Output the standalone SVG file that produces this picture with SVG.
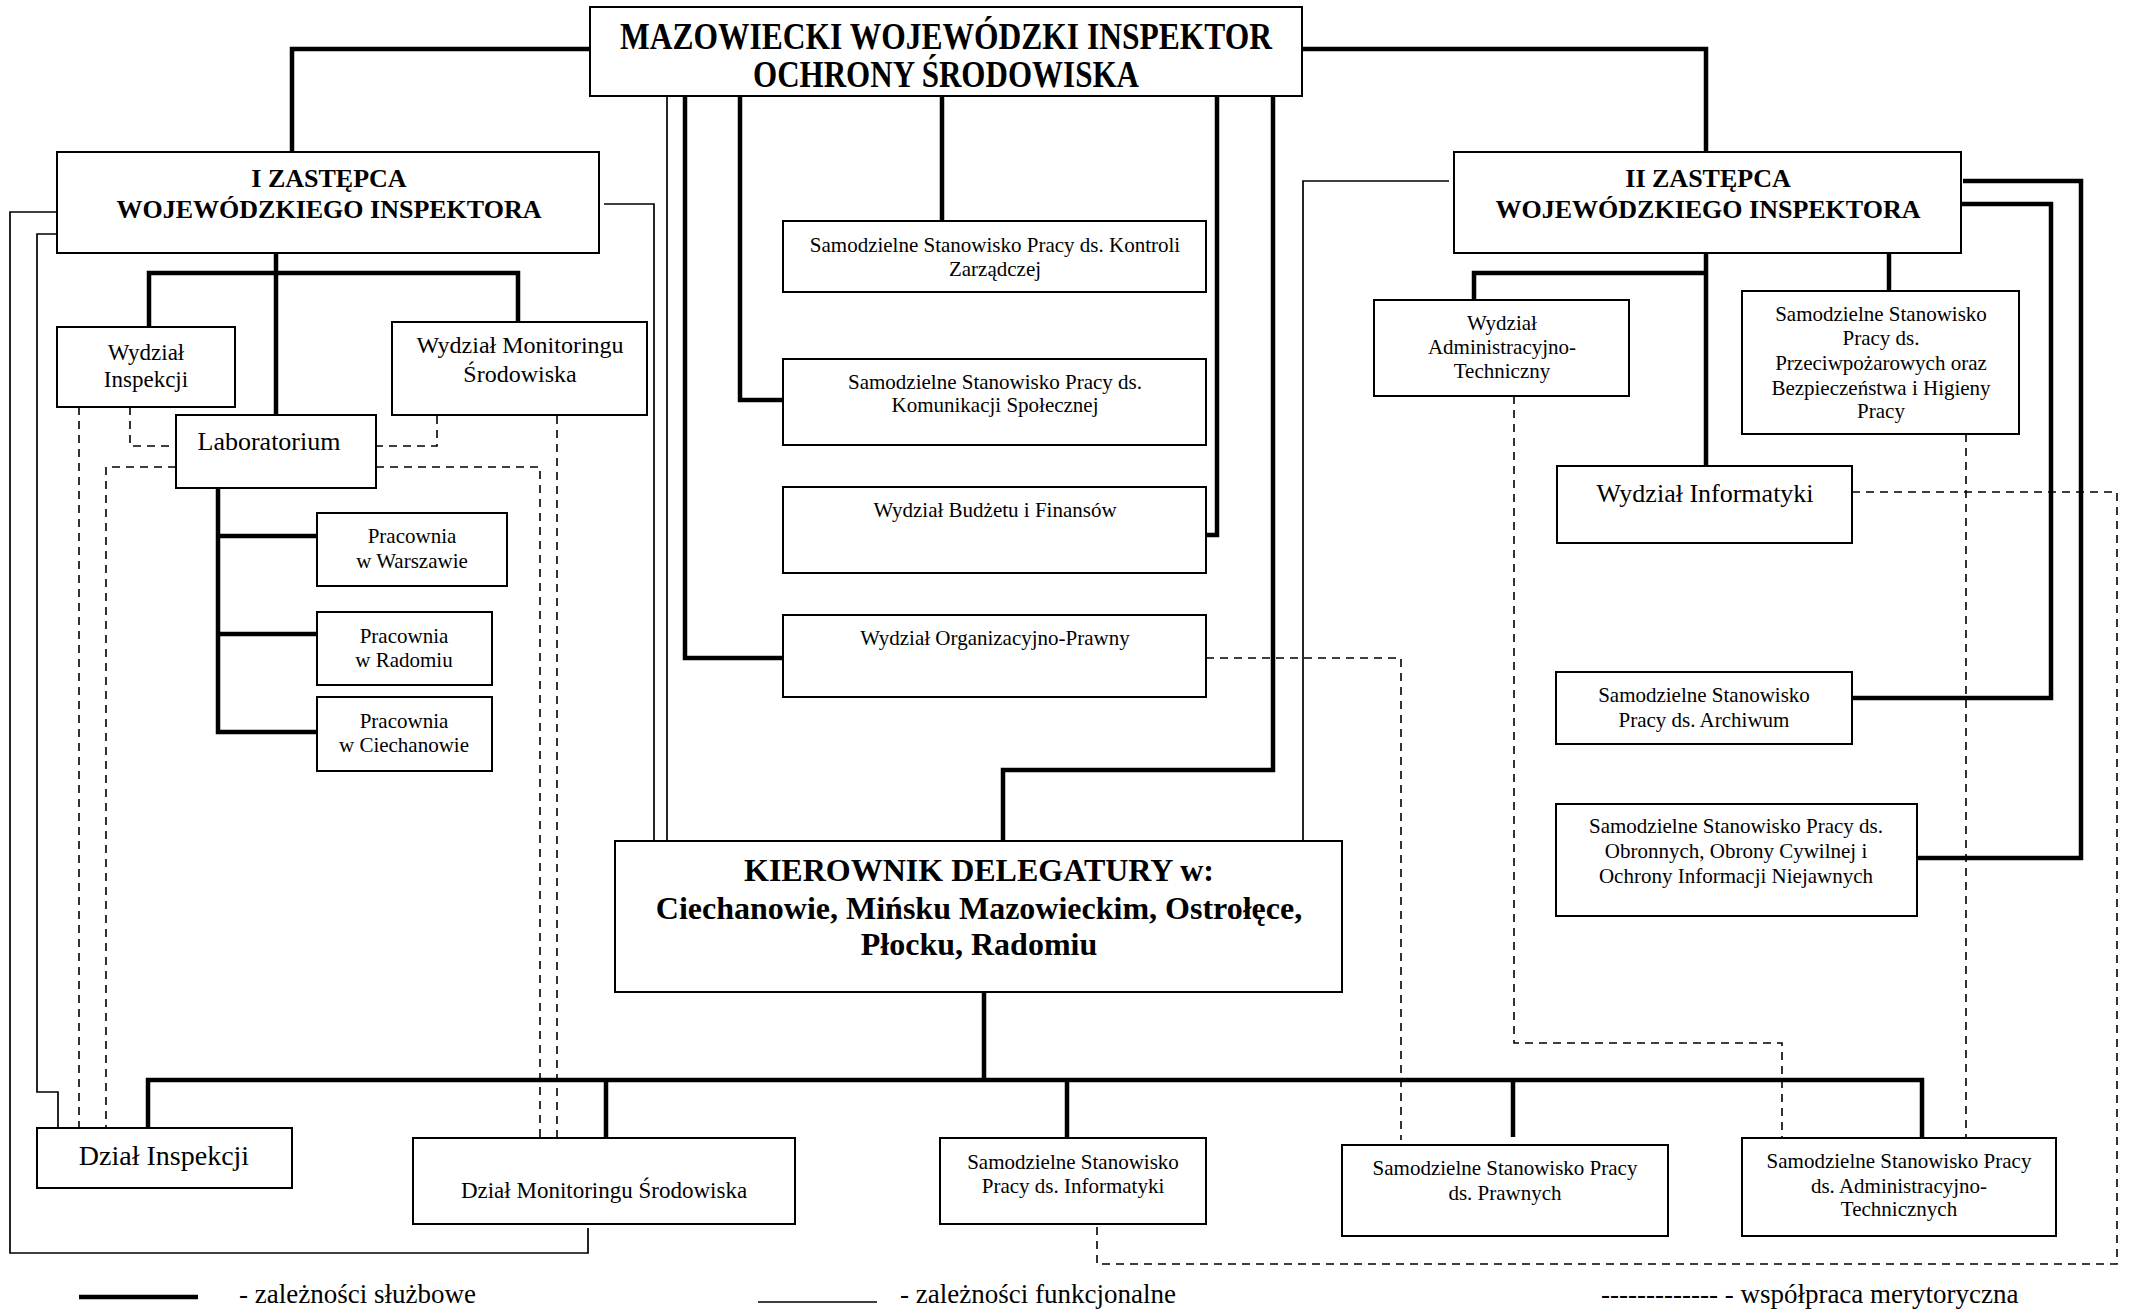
<svg xmlns="http://www.w3.org/2000/svg" width="2132" height="1310" viewBox="0 0 2132 1310">
<style>
rect.b{fill:#fff;stroke:#000;stroke-width:2}
text{font-family:"Liberation Serif","Times New Roman",serif;fill:#000;text-anchor:middle}
.t21{font-size:21px}
.t23{font-size:23px}
.t24{font-size:24px}
.t26{font-size:26px}
.t28{font-size:28px}
.bz{font-size:26px;font-weight:bold}
.bk{font-size:32px;font-weight:bold}
.bt{font-size:37px;font-weight:bold}
.lg{font-size:27px;text-anchor:start}
path{fill:none;stroke:#000}
.s path,path.s{stroke-width:4.5}
.f path,path.f{stroke-width:1.7}
.d path{stroke-width:1.6;stroke-dasharray:8 6}
</style>
<rect width="2132" height="1310" fill="#fff"/>
<g id="connectors">
<g class="s">
<path d="M590,49 H292 V152"/>
<path d="M1302,49 H1706 V152"/>
<path d="M685,96 V658 H783"/>
<path d="M740,96 V400 H783"/>
<path d="M942,96 V221"/>
<path d="M1217,96 V535 H1206"/>
<path d="M1273,96 V770 H1003 V841"/>
<path d="M276,253 V415"/>
<path d="M149,330 V273 H518 V321"/>
<path d="M218,488 V732 H317 M218,536 H317 M218,634 H317"/>
<path d="M1706,253 V466"/>
<path d="M1706,273 H1474 V300"/>
<path d="M1889,253 V291"/>
<path d="M1963,181 H2081 V858 H1917"/>
<path d="M1961,204 H2051 V698 H1852"/>
<path d="M984,992 V1080"/>
<path d="M148,1128 V1080 H1922 V1138"/>
<path d="M606,1080 V1138 M1067,1080 V1138 M1513,1080 V1137"/>
</g>
<g class="f">
<path d="M57,212 H10 V1253 H588 V1228"/>
<path d="M57,234 H37 V1092 H58 V1128"/>
<path d="M604,204 H654 V841"/>
<path d="M667,96 V841"/>
<path d="M1449,181 H1303 V841"/>
</g>
<g class="d">
<path d="M79,407 V1128"/>
<path d="M130,407 V446 H176"/>
<path d="M437,416 V446 H376"/>
<path d="M557,416 V1138"/>
<path d="M176,467 H106 V1128"/>
<path d="M376,467 H540 V1138"/>
<path d="M1206,658 H1401 V1140"/>
<path d="M1514,396 V1043 H1782 V1138"/>
<path d="M1966,434 V1140"/>
<path d="M1852,492 H2117 V1264 H1097 V1224"/>
</g>
</g>
<g id="wios">
<rect class="b" x="590" y="7" width="712" height="89"/>
<text class="bt" x="946" y="49" textLength="652" lengthAdjust="spacingAndGlyphs">MAZOWIECKI WOJEWÓDZKI INSPEKTOR</text>
<text class="bt" x="946" y="87" textLength="386" lengthAdjust="spacingAndGlyphs">OCHRONY ŚRODOWISKA</text>
</g>
<g id="zastepca1">
<rect class="b" x="57" y="152" width="542" height="101"/>
<text class="bz" x="329" y="187">I ZASTĘPCA</text>
<text class="bz" x="329" y="218">WOJEWÓDZKIEGO INSPEKTORA</text>
</g>
<g id="zastepca2">
<rect class="b" x="1454" y="152" width="507" height="101"/>
<text class="bz" x="1708" y="187">II ZASTĘPCA</text>
<text class="bz" x="1708" y="218">WOJEWÓDZKIEGO INSPEKTORA</text>
</g>
<g id="wydz-inspekcji">
<rect class="b" x="57" y="327" width="178" height="80"/>
<text class="t23" x="146" y="360">Wydział</text>
<text class="t23" x="146" y="387">Inspekcji</text>
</g>
<g id="wydz-monitoringu">
<rect class="b" x="392" y="322" width="255" height="93"/>
<text class="t24" x="520" y="353">Wydział Monitoringu</text>
<text class="t24" x="520" y="382">Środowiska</text>
</g>
<g id="laboratorium">
<rect class="b" x="176" y="415" width="200" height="73"/>
<text class="t26" x="269" y="450">Laboratorium</text>
</g>
<g id="prac-warszawa">
<rect class="b" x="317" y="513" width="190" height="73"/>
<text class="t21" x="412" y="543">Pracownia</text>
<text class="t21" x="412" y="568">w Warszawie</text>
</g>
<g id="prac-radom">
<rect class="b" x="317" y="612" width="175" height="73"/>
<text class="t21" x="404" y="643">Pracownia</text>
<text class="t21" x="404" y="667">w Radomiu</text>
</g>
<g id="prac-ciechanow">
<rect class="b" x="317" y="697" width="175" height="74"/>
<text class="t21" x="404" y="728">Pracownia</text>
<text class="t21" x="404" y="752">w Ciechanowie</text>
</g>
<g id="ssp-kontroli">
<rect class="b" x="783" y="221" width="423" height="71"/>
<text class="t21" x="995" y="252">Samodzielne Stanowisko Pracy ds. Kontroli</text>
<text class="t21" x="995" y="276">Zarządczej</text>
</g>
<g id="ssp-komunikacji">
<rect class="b" x="783" y="359" width="423" height="86"/>
<text class="t21" x="995" y="389">Samodzielne Stanowisko Pracy ds.</text>
<text class="t21" x="995" y="412">Komunikacji Społecznej</text>
</g>
<g id="wydz-budzetu">
<rect class="b" x="783" y="487" width="423" height="86"/>
<text class="t21" x="995" y="517">Wydział Budżetu i Finansów</text>
</g>
<g id="wydz-org-prawny">
<rect class="b" x="783" y="615" width="423" height="82"/>
<text class="t21" x="995" y="645">Wydział Organizacyjno-Prawny</text>
</g>
<g id="kierownik">
<rect class="b" x="615" y="841" width="727" height="151"/>
<text class="bk" x="979" y="881">KIEROWNIK DELEGATURY w:</text>
<text class="bk" x="979" y="919">Ciechanowie, Mińsku Mazowieckim, Ostrołęce,</text>
<text class="bk" x="979" y="955">Płocku, Radomiu</text>
</g>
<g id="wydz-adm-tech">
<rect class="b" x="1374" y="300" width="255" height="96"/>
<text class="t21" x="1502" y="330">Wydział</text>
<text class="t21" x="1502" y="354">Administracyjno-</text>
<text class="t21" x="1502" y="378">Techniczny</text>
</g>
<g id="ssp-ppoz-bhp">
<rect class="b" x="1742" y="291" width="277" height="143"/>
<text class="t21" x="1881" y="321">Samodzielne Stanowisko</text>
<text class="t21" x="1881" y="345">Pracy ds.</text>
<text class="t21" x="1881" y="370">Przeciwpożarowych oraz</text>
<text class="t21" x="1881" y="395">Bezpieczeństwa i Higieny</text>
<text class="t21" x="1881" y="418">Pracy</text>
</g>
<g id="wydz-informatyki">
<rect class="b" x="1557" y="466" width="295" height="77"/>
<text class="t26" x="1705" y="502">Wydział Informatyki</text>
</g>
<g id="ssp-archiwum">
<rect class="b" x="1556" y="672" width="296" height="72"/>
<text class="t21" x="1704" y="702">Samodzielne Stanowisko</text>
<text class="t21" x="1704" y="727">Pracy ds. Archiwum</text>
</g>
<g id="ssp-obronnych">
<rect class="b" x="1556" y="804" width="361" height="112"/>
<text class="t21" x="1736" y="833">Samodzielne Stanowisko Pracy ds.</text>
<text class="t21" x="1736" y="858">Obronnych, Obrony Cywilnej i</text>
<text class="t21" x="1736" y="883">Ochrony Informacji Niejawnych</text>
</g>
<g id="dzial-inspekcji">
<rect class="b" x="37" y="1128" width="255" height="60"/>
<text class="t28" x="164" y="1165">Dział Inspekcji</text>
</g>
<g id="dzial-monitoringu">
<rect class="b" x="413" y="1138" width="382" height="86"/>
<text class="t23" x="604" y="1198">Dział Monitoringu Środowiska</text>
</g>
<g id="ssp-informatyki">
<rect class="b" x="940" y="1138" width="266" height="86"/>
<text class="t21" x="1073" y="1169">Samodzielne Stanowisko</text>
<text class="t21" x="1073" y="1193">Pracy ds. Informatyki</text>
</g>
<g id="ssp-prawnych">
<rect class="b" x="1342" y="1145" width="326" height="91"/>
<text class="t21" x="1505" y="1175">Samodzielne Stanowisko Pracy</text>
<text class="t21" x="1505" y="1200">ds. Prawnych</text>
</g>
<g id="ssp-adm-tech">
<rect class="b" x="1742" y="1138" width="314" height="98"/>
<text class="t21" x="1899" y="1168">Samodzielne Stanowisko Pracy</text>
<text class="t21" x="1899" y="1193">ds. Administracyjno-</text>
<text class="t21" x="1899" y="1216">Technicznych</text>
</g>
<g id="legend">
<path class="s" d="M79,1297 H198"/>
<text class="lg" x="239" y="1303">- zależności służbowe</text>
<path class="f" d="M758,1302 H877"/>
<text class="lg" x="900" y="1303">- zależności funkcjonalne</text>
<text class="lg" x="1601" y="1303">------------- - współpraca merytoryczna</text>
</g>
</svg>
